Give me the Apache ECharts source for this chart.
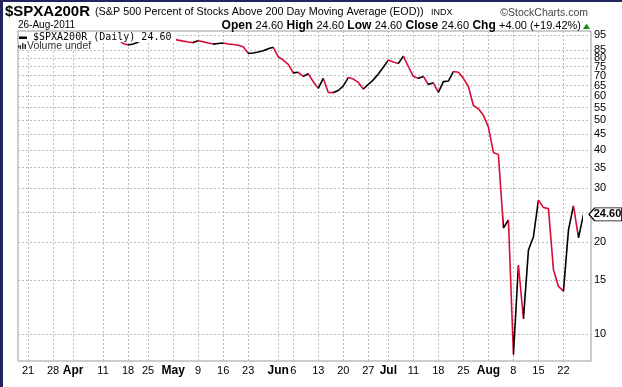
<!DOCTYPE html>
<html><head><meta charset="utf-8">
<script src="https://cdn.jsdelivr.net/npm/echarts@6/dist/echarts.min.js"></script>
<style>html,body{margin:0;padding:0;background:#fff;overflow:hidden}#c{width:622px;height:387px}</style>
</head><body><div id="c"></div>
<script>
const dates = [
 '2011-03-17','2011-03-18','2011-03-21','2011-03-22','2011-03-23','2011-03-24','2011-03-25','2011-03-28','2011-03-29','2011-03-30','2011-03-31',
 '2011-04-01','2011-04-04','2011-04-05','2011-04-06','2011-04-07','2011-04-08','2011-04-11','2011-04-12','2011-04-13','2011-04-14','2011-04-15',
 '2011-04-18','2011-04-19','2011-04-20','2011-04-21','2011-04-25','2011-04-26','2011-04-27','2011-04-28','2011-04-29',
 '2011-05-02','2011-05-03','2011-05-04','2011-05-05','2011-05-06','2011-05-09','2011-05-10','2011-05-11','2011-05-12','2011-05-13',
 '2011-05-16','2011-05-17','2011-05-18','2011-05-19','2011-05-20','2011-05-23','2011-05-24','2011-05-25','2011-05-26','2011-05-27','2011-05-31',
 '2011-06-01','2011-06-02','2011-06-03','2011-06-06','2011-06-07','2011-06-08','2011-06-09','2011-06-10','2011-06-13','2011-06-14','2011-06-15',
 '2011-06-16','2011-06-17','2011-06-20','2011-06-21','2011-06-22','2011-06-23','2011-06-24','2011-06-27','2011-06-28','2011-06-29','2011-06-30',
 '2011-07-01','2011-07-05','2011-07-06','2011-07-07','2011-07-08','2011-07-11','2011-07-12','2011-07-13','2011-07-14','2011-07-15',
 '2011-07-18','2011-07-19','2011-07-20','2011-07-21','2011-07-22','2011-07-25','2011-07-26','2011-07-27','2011-07-28','2011-07-29',
 '2011-08-01','2011-08-02','2011-08-03','2011-08-04','2011-08-05','2011-08-08','2011-08-09','2011-08-10','2011-08-11','2011-08-12',
 '2011-08-15','2011-08-16','2011-08-17','2011-08-18','2011-08-19','2011-08-22','2011-08-23','2011-08-24','2011-08-25','2011-08-26'
];
const values = [
 87.0, 88.0, 89.0, 88.5, 89.5, 90.5, 91.0, 90.5, 91.5, 92.0, 92.5,
 93.0, 93.0, 92.5, 93.0, 92.5, 92.0, 92.3, 92.0, 92.5, 91.8, 89.2,
 88.2, 88.9, 90.1, 92.0, 92.2, 93.0, 93.5, 93.2, 92.8,
 92.3, 91.5, 90.8, 90.2, 89.8, 91.1, 90.4, 89.5, 88.8, 89.2,
 89.5, 88.9, 88.5, 88.0, 87.0, 82.8, 83.0, 83.6, 84.4, 85.7, 86.7,
 80.7, 78.7, 76.2, 71.5, 71.8, 69.6, 71.0, 66.9, 63.6, 68.6, 61.7,
 61.6, 62.6, 64.8, 69.0, 68.2, 66.5, 63.3, 65.5, 67.8, 70.9, 74.6,
 78.7, 77.6, 76.7, 81.1, 75.0, 69.6, 68.6, 69.6, 65.5, 66.3,
 61.7, 66.9, 67.2, 72.2, 71.8, 68.6, 64.5, 55.9, 54.5, 51.9,
 47.5, 39.2, 38.6, 22.2, 23.6, 8.54, 16.8, 11.2, 18.8, 20.8,
 27.4, 25.9, 25.7, 16.2, 14.3, 13.8, 21.9, 26.3, 20.6, 24.6
];
const xTickDates = ['2011-03-21','2011-03-28','2011-04-01','2011-04-11','2011-04-18','2011-04-25','2011-05-02','2011-05-09','2011-05-16','2011-05-23',
 '2011-06-01','2011-06-06','2011-06-13','2011-06-20','2011-06-27','2011-07-01','2011-07-11','2011-07-18','2011-07-25','2011-08-01','2011-08-08','2011-08-15','2011-08-22'];
const xTickLabels = ['21','28','Apr','11','18','25','May','9','16','23','Jun','6','13','20','27','Jul','11','18','25','Aug','8','15','22'];
const yGridValues = [10,15,20,25,30,35,40,45,50,55,60,65,70,75,80,85,95];
const yLabelValues = [10,15,20,30,35,40,45,50,55,60,65,70,75,80,85,95];

const UP = '#000000', DOWN = '#d80a38';
const SANS = '"Liberation Sans", Arial, sans-serif';
const MONO = '"DejaVu Sans Mono", monospace';

const xIdx = xTickDates.map(d => dates.indexOf(d));
const xLabelByIdx = {};
xIdx.forEach((ix, k) => { xLabelByIdx[ix] = xTickLabels[k]; });
const lastIdx = values.length - 1;
const lastVal = values[lastIdx];
const prevVal = values[lastIdx - 1];
const chg = lastVal - prevVal;
const pct = chg / prevVal * 100;

const pieces = [];
for (let i = 0; i < values.length - 1; i++) {
  const p = { gte: i, color: values[i + 1] > values[i] ? UP : DOWN };
  if (i === values.length - 2) p.lte = i + 1; else p.lt = i + 1;
  pieces.push(p);
}

const chart = echarts.init(document.getElementById('c'), null, { renderer: 'canvas' });
const f2 = v => v.toFixed(2);
chart.setOption({
  animation: false,
  backgroundColor: '#fff',
  grid: { left: 18, right: 31, top: 31, bottom: 26, show: true, borderColor: '#9a9a9a', borderWidth: 1, backgroundColor: '#fff' },
  xAxis: {
    type: 'value', min: 0, max: lastIdx + 1.5,
    axisLine: { show: false },
    axisTick: { show: false, customValues: xIdx },
    splitLine: { show: true, lineStyle: { color: '#bdbdbd', type: [2, 2], width: 1 } },
    axisLabel: {
      customValues: xIdx, margin: 4, color: '#000',
      formatter: v => {
        const t = xLabelByIdx[Math.round(v)];
        if (t === undefined) return '';
        return /^[A-Z]/.test(t) ? '{m|' + t + '}' : '{n|' + t + '}';
      },
      rich: {
        m: { fontFamily: SANS, fontWeight: 'bold', fontSize: 12, color: '#000' },
        n: { fontFamily: SANS, fontSize: 11, color: '#000' }
      }
    }
  },
  yAxis: {
    type: 'log', logBase: 10, position: 'right', min: 8.15, max: 98,
    axisLine: { show: false },
    axisTick: { show: false, customValues: yGridValues },
    splitLine: { show: true, lineStyle: { color: '#bdbdbd', type: [2, 2], width: 1 } },
    axisLabel: {
      customValues: yLabelValues, margin: 3, color: '#000', fontFamily: SANS, fontSize: 11,
      formatter: v => String(Math.round(v))
    }
  },
  visualMap: { type: 'piecewise', show: false, dimension: 0, seriesIndex: 0, pieces: pieces },
  series: [{
    type: 'line',
    data: values.map((v, i) => [i, v]),
    showSymbol: false,
    symbol: 'none',
    clip: true,
    lineStyle: { width: 1.6 },
    emphasis: { disabled: true },
    z: 2,
    markPoint: {
      silent: true,
      symbol: 'path://M0,7 L7,0 L40,0 L40,14 L7,14 Z',
      symbolSize: [33, 13],
      symbolKeepAspect: false,
      symbolOffset: [22, 0],
      itemStyle: { color: '#fff', borderColor: '#000', borderWidth: 1 },
      label: { show: true, position: 'inside', offset: [2, 0], color: '#000', fontWeight: 'bold', fontSize: 11, fontFamily: SANS, formatter: p => f2(p.value) },
      data: [{ coord: [lastIdx, lastVal], value: lastVal }]
    }
  }],
  graphic: [
    { type: 'rect', z: 200, shape: { x: 0, y: 0, width: 3, height: 387 }, style: { fill: '#23235e' } },
    { type: 'rect', z: 200, shape: { x: 0, y: 0, width: 622, height: 2 }, style: { fill: '#23235e' } },
    { type: 'text', z: 100, x: 5, y: 12, style: { text: '$SPXA200R', font: 'bold 15px ' + SANS, fill: '#000', verticalAlign: 'middle' } },
    { type: 'text', z: 100, x: 95, y: 12.5, style: { text: '(S&P 500 Percent of Stocks Above 200 Day Moving Average (EOD))', font: '10.8px ' + SANS, fill: '#000', verticalAlign: 'middle' } },
    { type: 'text', z: 100, x: 431, y: 13, style: { text: 'INDX', font: '9px ' + SANS, fill: '#000', verticalAlign: 'middle' } },
    { type: 'text', z: 100, x: 588, y: 13, style: { text: '\u00A9StockCharts.com', font: '10.5px ' + SANS, fill: '#444', align: 'right', verticalAlign: 'middle' } },
    { type: 'text', z: 100, x: 18, y: 25.5, style: { text: dates[lastIdx].slice(8) + '-Aug-' + dates[lastIdx].slice(0, 4), font: '10px ' + SANS, fill: '#000', verticalAlign: 'middle' } },
    { type: 'text', z: 100, x: 581, y: 25.5, style: {
        text: '{b|Open} {r|' + f2(lastVal) + '} {b|High} {r|' + f2(lastVal) + '} {b|Low} {r|' + f2(lastVal) + '} {b|Close} {r|' + f2(lastVal) + '} {b|Chg} {r|+' + f2(chg) + ' (+' + f2(pct) + '%)}',
        align: 'right', verticalAlign: 'middle',
        rich: { b: { font: 'bold 12px ' + SANS, fill: '#000' }, r: { font: '11px ' + SANS, fill: '#000' } }
    } },
    { type: 'polygon', z: 100, shape: { points: [[583, 29], [590, 29], [586.5, 23.5]] }, style: { fill: '#1a8a1a' } },
    { type: 'rect', z: 100, shape: { x: 19, y: 32, width: 157, height: 10 }, style: { fill: '#fff' } },
    { type: 'rect', z: 100, shape: { x: 19, y: 42, width: 77, height: 8 }, style: { fill: '#fff' } },
    { type: 'rect', z: 101, shape: { x: 19, y: 36.5, width: 8, height: 2.5 }, style: { fill: '#000' } },
    { type: 'text', z: 101, x: 33, y: 37.5, style: { text: '$SPXA200R (Daily) ' + f2(lastVal), font: '10px ' + MONO, fill: '#000', verticalAlign: 'middle' } },
    { type: 'rect', z: 101, shape: { x: 19.5, y: 45, width: 1.5, height: 4 }, style: { fill: '#333' } },
    { type: 'rect', z: 101, shape: { x: 22, y: 43, width: 1.5, height: 6 }, style: { fill: '#333' } },
    { type: 'rect', z: 101, shape: { x: 24.5, y: 44, width: 1.5, height: 5 }, style: { fill: '#333' } },
    { type: 'text', z: 101, x: 27, y: 46, style: { text: 'Volume undef', font: '10.5px ' + SANS, fill: '#333', verticalAlign: 'middle' } }
  ]
});
</script>
</body></html>
